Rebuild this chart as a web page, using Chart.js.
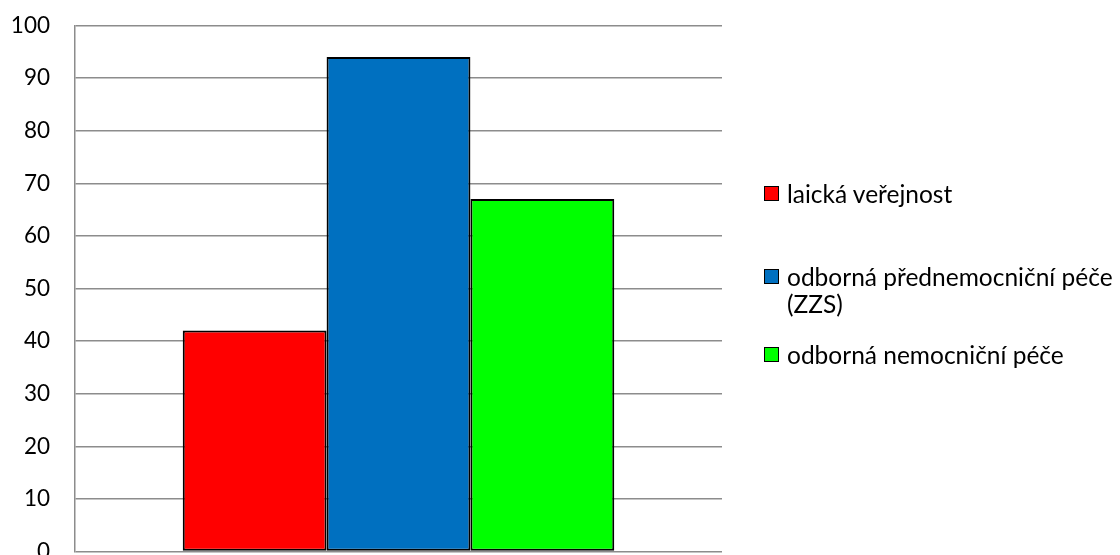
<!DOCTYPE html>
<html>
<head>
<meta charset="utf-8">
<script src="https://cdn.jsdelivr.net/npm/chart.js@4"></script>
<style>
  html, body { margin: 0; padding: 0; background: #fff; overflow: hidden; }
  #wrap { position: absolute; left: 0; top: -13px; width: 1120px; height: 603px; }
  #legend { position: absolute; left: 764px; top: 0; font-family: Lato, sans-serif; font-size: 24.5px; color: #000; }
  .item { position: absolute; left: 0; white-space: nowrap; line-height: 27px; }
  .box { position: absolute; left: 0; top: 6px; width: 13px; height: 13px; border: 1px solid #000; }
  .txt { position: absolute; left: 23px; top: 0; }
</style>
</head>
<body>
<div id="wrap"><canvas id="barChart"></canvas></div>
<div id="legend"></div>
<script>
// data
var categories = [""];
var seriesNames = ["laická veřejnost", ["odborná přednemocniční péče", "(ZZS)"], "odborná nemocniční péče"];
var seriesValues = [[42], [94], [67]];
var seriesColors = ["#ff0000", "#0070c0", "#00ff00"];
var yTicks = [0, 10, 20, 30, 40, 50, 60, 70, 80, 90, 100];

var legendTops = [180, 263, 341];

var datasets = [];
seriesNames.forEach(function(name, i) {
    datasets.push({
        label: Array.isArray(name) ? name.join(" ") : name,
        data: seriesValues[i],
        backgroundColor: seriesColors[i],
        borderColor: "#000",
        borderWidth: 2,
        borderSkipped: false,
        categoryPercentage: 0.667,
        barPercentage: 1
    });
});

var ctx = document.getElementById("barChart");
new Chart(ctx, {
    type: "bar",
    data: { labels: categories, datasets: datasets },
    options: {
        responsive: true,
        maintainAspectRatio: false,
        animation: false,
        layout: { padding: { left: 0, right: 398, top: 1, bottom: 5 } },
        plugins: { legend: { display: false }, tooltip: { enabled: false } },
        scales: {
            x: { display: false },
            y: {
                min: yTicks[0],
                max: yTicks[yTicks.length - 1],
                afterFit: function(scale) { scale.width = 75; },
                afterBuildTicks: function(scale) {
                    scale.ticks = yTicks.map(function(v) { return { value: v }; });
                },
                ticks: { color: "#000", padding: 25, font: { family: "Lato", size: 22.5 } },
                grid: { color: "#8c8c8c", lineWidth: 1.5, drawTicks: false },
                border: { display: true, color: "#8c8c8c", width: 1.5 }
            }
        }
    }
});

// legend
var legend = document.getElementById("legend");
seriesNames.forEach(function(name, i) {
    var item = document.createElement("div");
    item.className = "item";
    item.style.top = legendTops[i] + "px";
    var box = document.createElement("div");
    box.className = "box";
    box.style.background = seriesColors[i];
    var txt = document.createElement("div");
    txt.className = "txt";
    txt.innerHTML = (Array.isArray(name) ? name : [name]).join("<br>");
    item.appendChild(box);
    item.appendChild(txt);
    legend.appendChild(item);
});
</script>
</body>
</html>
